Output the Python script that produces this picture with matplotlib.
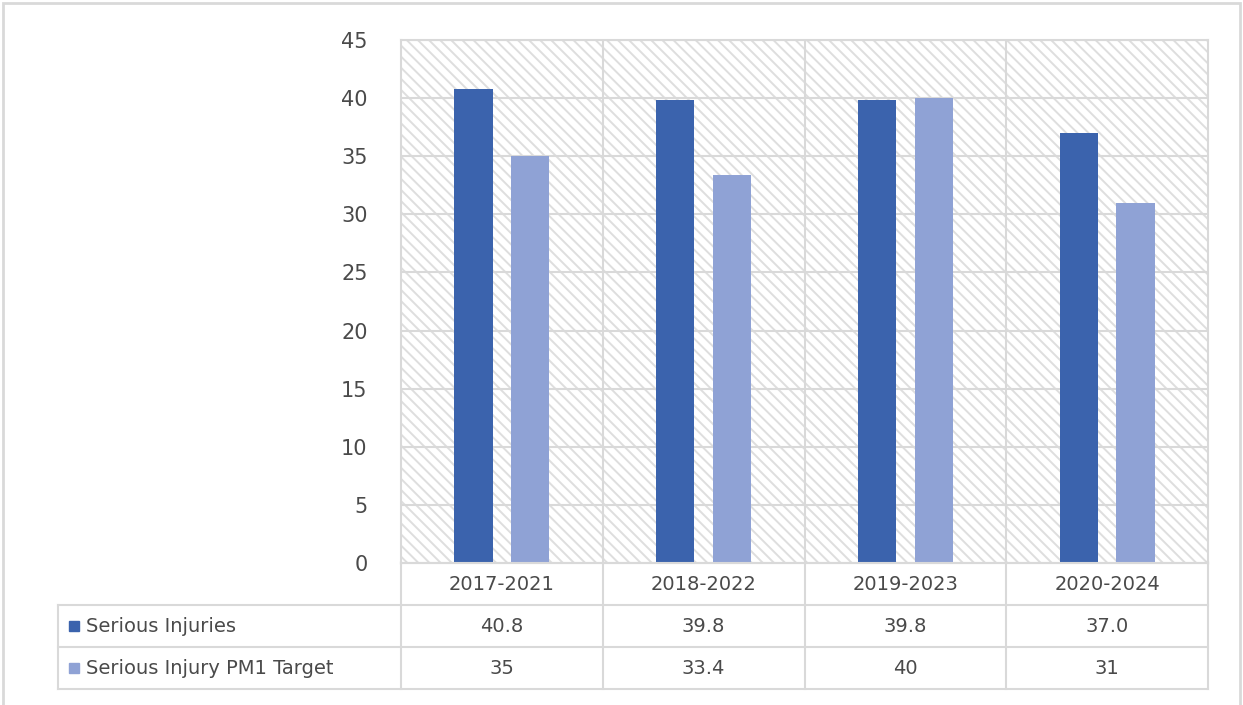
import matplotlib
matplotlib.use("Agg")
import matplotlib.pyplot as plt
from matplotlib.patches import Rectangle
import numpy as np

# data
periods = ["2017-2021", "2018-2022", "2019-2023", "2020-2024"]
serious_injuries = [40.8, 39.8, 39.8, 37.0]
pm1_target = [35, 33.4, 40, 31]
injury_labels = ["40.8", "39.8", "39.8", "37.0"]
target_labels = ["35", "33.4", "40", "31"]
series_names = ["Serious Injuries", "Serious Injury PM1 Target"]
y_ticks = [0, 5, 10, 15, 20, 25, 30, 35, 40, 45]

dark_blue = "#3B63AD"
light_blue = "#8FA2D5"
grid_col = "#d9d9d9"
text_col = "#4a4a4a"

plt.rcParams["font.family"] = ["DejaVu Sans"]
plt.rcParams["hatch.color"] = "#dedede"
plt.rcParams["hatch.linewidth"] = 1.4

W, H = 1243, 705
fig = plt.figure(figsize=(W / 100, H / 100), dpi=100)

# outer frame
fig.patches.append(Rectangle((3 / W, -0.01), 1237 / W, 1 - 3 / H + 0.01, transform=fig.transFigure,
                             fill=False, edgecolor="#d9d9d9", lw=2))

# plot area in pixels
px_l, px_r, px_t, px_b = 401, 1208, 40, 563
ax = fig.add_axes([px_l / W, 1 - px_b / H, (px_r - px_l) / W, (px_b - px_t) / H])
x = np.arange(len(periods))
ax.set_xlim(-0.5, len(periods) - 0.5)
ax.set_ylim(0, 45)

# hatched background
ax.add_patch(Rectangle((0, 0), 1, 1, transform=ax.transAxes, facecolor="white",
                       hatch="\\\\\\", lw=0, zorder=0))

bw = 0.19
off = 0.141
ax.bar(x - off, serious_injuries, bw, color=dark_blue, zorder=3)
ax.bar(x + off, pm1_target, bw, color=light_blue, zorder=3)

ax.set_yticks(y_ticks)
ax.set_yticklabels([str(t) for t in y_ticks], fontsize=15, color=text_col)
ax.tick_params(axis="y", length=0, pad=24)
ax.set_xticks([])
for t in y_ticks[1:]:
    ax.axhline(t, color=grid_col, lw=1.5, zorder=1)
for b in np.arange(0.5, len(periods) - 0.5):
    ax.axvline(b, color=grid_col, lw=1.5, zorder=1)
for s in ax.spines.values():
    s.set_color(grid_col)
    s.set_linewidth(1.5)

# data table below
tb_l, tb_b = 58, 689
unit = (px_r - px_l) / len(periods)
x0 = -0.5 - (px_l - tb_l) / unit
tax = fig.add_axes([tb_l / W, 1 - tb_b / H, (px_r - tb_l) / W, (tb_b - px_b) / H])
tax.set_xlim(x0, len(periods) - 0.5)
tax.set_ylim(3, 0)
tax.axis("off")

lk = dict(color=grid_col, lw=1.5, clip_on=False)
# horizontal lines
tax.plot([-0.5, len(periods) - 0.5], [0, 0], **lk)
for r in [1, 2, 3]:
    tax.plot([x0, len(periods) - 0.5], [r, r], **lk)
# vertical lines
for b in np.arange(-0.5, len(periods)):
    tax.plot([b, b], [0, 3], **lk)
tax.plot([x0, x0], [1, 3], **lk)

for i, p in enumerate(periods):
    tax.text(i, 0.5, p, ha="center", va="center", fontsize=14, color=text_col)
    tax.text(i, 1.5, injury_labels[i], ha="center", va="center", fontsize=14, color=text_col)
    tax.text(i, 2.5, target_labels[i], ha="center", va="center", fontsize=14, color=text_col)

for r, (name, c) in enumerate(zip(series_names, [dark_blue, light_blue])):
    tax.plot([x0 + 16 / unit], [1.5 + r], marker="s", ms=7, color=c, clip_on=False)
    tax.text(x0 + 28 / unit, 1.5 + r, name, ha="left", va="center", fontsize=14, color=text_col)

fig.savefig("out.png", dpi=100, facecolor="white")
